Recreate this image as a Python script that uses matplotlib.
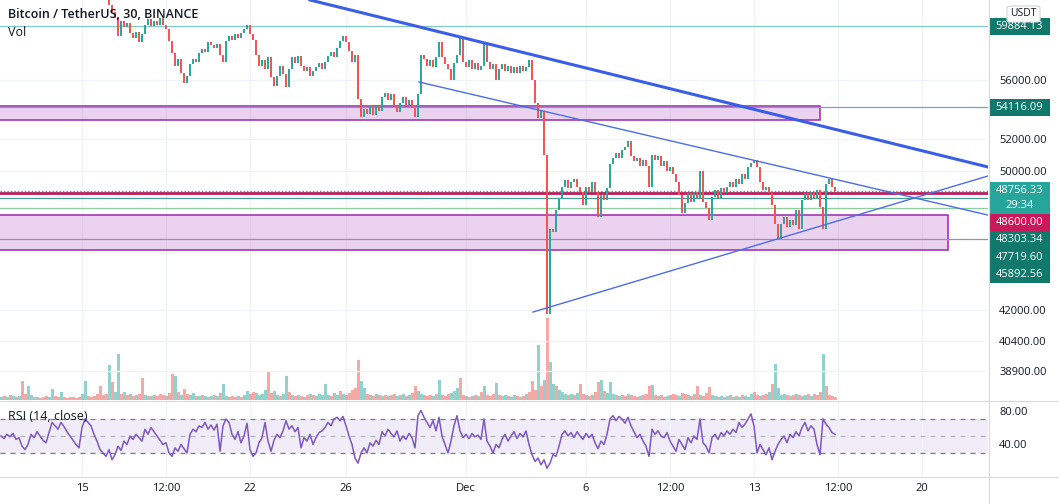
import numpy as np
import matplotlib.pyplot as plt
from matplotlib.lines import Line2D
from matplotlib.patches import Rectangle, FancyBboxPatch

W, H = 1059, 504

# x axis = day counted from Nov 1 (Dec 1 = 31); values sampled every 3h from the 30m chart
tick_days = [15, 18.5, 22, 26, 31, 36, 39.5, 43, 46.5, 50]
tick_labels = ["15", "12:00", "22", "26", "Dec", "6", "12:00", "13", "12:00", "20"]

price_span = (15.875, 46.375)
closes = [
    62400, 62000, 61500, 61000, 60500, 59200, 60300, 59800, 60100, 59400,
    59000, 59500, 58700, 59300, 60000, 60400, 59900, 60300, 60000, 60500,
    60000, 59700, 58800, 57900, 57000, 57500, 56500, 55800, 56300, 57100,
    57500, 57300, 57900, 58200, 58000, 58700, 58500, 58300, 58600, 57800,
    57300, 58800, 59200, 58900, 59300, 59000, 59400, 59700, 60000, 59300,
    58900, 57800, 57000, 57400, 56800, 57600, 56200, 55600, 56300, 57000,
    56400, 55500, 56800, 57600, 57200, 57700, 57000, 56600, 56900, 56300,
    56600, 56900, 57200, 56800, 57300, 57700, 58000, 57600, 58300, 58800,
    59200, 58700, 58100, 57300, 57800, 54700, 53500, 54000, 53700, 54200,
    53600, 54300, 53900, 54800, 55100, 54600, 55000, 54300, 53800, 54400,
    54800, 54200, 54600, 54100, 53500, 55000, 57800, 57500, 57000, 57400,
    56900, 57600, 58700, 57600, 57100, 56800, 56000, 57200, 57800, 59000,
    57300, 56900, 57400, 56800, 57200, 56700, 57000, 58600, 57300, 56800,
    57100, 56000, 56800, 57100, 56600, 57000, 56500, 56900, 56500, 57000,
    56600, 56900, 57400, 56000, 54400, 53400, 53900, 51000, 41800, 46500,
    46300, 47600, 48300, 49000, 49400, 48900, 49300, 49500, 49000, 48700,
    47900, 49000, 48700, 49300, 48700, 47200, 48500, 48200, 48900, 50400,
    50800, 51100, 50800, 51300, 51500, 51900, 50900, 50600, 50800, 50300,
    50700, 50300, 49000, 51000, 50700, 50900, 50300, 50600, 50000, 50200,
    49800, 49300, 48500, 47400, 48000, 48600, 48100, 48700, 48300, 50000,
    48100, 47700, 47000, 48400, 48800, 48300, 48900, 48600, 49000, 49300,
    49000, 49500, 49200, 49800, 49500, 50200, 50500, 50700, 50200, 49300,
    48800, 49000, 48600, 47900, 46800, 45900, 46800, 47200, 46600, 47000,
    46700, 47600, 46500, 48200, 48600, 48200, 48700, 48300, 48800, 47800,
    46500, 49200, 49500, 49000, 48756.33,
]

ind_span = (11.625, 46.375)
rsi = [
    50, 47, 52, 49, 53, 46, 48, 38, 34, 40, 52, 48, 55, 50, 45, 42, 54, 66, 62,
    58, 66, 61, 55, 50, 45, 40, 36, 60, 70, 66, 62, 52, 44, 34, 30, 26, 34, 22, 28,
    38, 33, 44, 40, 50, 46, 52, 48, 44, 58, 52, 60, 55, 50, 45, 40, 42, 30, 26,
    36, 32, 40, 35, 30, 52, 58, 55, 62, 60, 66, 58, 63, 57, 64, 32, 62, 70, 66,
    52, 46, 55, 42, 50, 65, 34, 26, 30, 42, 48, 66, 44, 32, 45, 52, 48, 56, 68,
    58, 62, 55, 60, 36, 48, 44, 52, 40, 48, 54, 56, 60, 66, 62, 70, 72, 68, 73, 62,
    50, 40, 24, 18, 30, 36, 30, 42, 38, 45, 40, 55, 50, 58, 53, 49, 56,
    44, 50, 46, 53, 48, 36, 74, 80, 72, 66, 60, 68, 56, 72, 50, 40, 30, 44,
    62, 74, 56, 48, 52, 47, 53, 49, 51, 46, 70, 44, 38, 30, 40, 36,
    46, 52, 44, 50, 55, 47, 53, 49, 56, 40, 28, 20, 24, 16, 22, 12, 18, 28, 26,
    38, 52, 56, 50, 54, 48, 55, 50, 46, 53, 48, 52, 42, 35, 44, 40, 52, 70,
    74, 68, 73, 70, 65, 72, 62, 55, 48, 52, 44, 38, 26, 58, 52, 56, 50, 48, 54,
    44, 38, 32, 46, 40, 34, 48, 42, 50, 46, 70, 42, 38, 30, 48, 52, 46, 54, 50, 56, 52,
    58, 54, 66, 60, 64, 70, 76, 62, 30, 40, 34, 28, 36, 22, 32, 40,
    46, 50, 42, 52, 48, 55, 50, 60, 66, 56, 62, 58, 40, 28, 70, 64, 60, 54, 52,
]

# volume in hundreds of BTC
volume = [
    3, 4, 3, 5, 4, 3, 4,
    19, 6, 14, 5, 3, 3, 2, 3, 4, 3, 11, 4, 3, 8, 3, 2, 3, 3, 2, 3,
    6, 19, 4, 3, 4, 6, 14, 5, 6, 35, 18, 8, 46, 6, 8, 5, 6, 4, 5, 6,
    22, 5, 4, 4, 5, 4, 6, 5, 4, 7, 26, 24, 8, 5, 11, 6, 5, 7, 4, 4,
    5, 4, 3, 4, 5, 4, 7, 16, 4, 3, 4, 3, 4, 3, 5, 9, 6, 8, 7, 5,
    6, 10, 28, 7, 9, 5, 4, 6, 24, 8, 5, 4, 5, 4, 3, 5, 6, 5, 4, 6,
    5, 16, 5, 4, 7, 5, 9, 6, 5, 7, 10, 12, 40, 19, 12, 6, 5, 4, 6, 5,
    4, 5, 4, 5, 6, 4, 5, 6, 4, 5, 7, 14, 9, 6, 5, 4, 5, 4, 6, 20,
    5, 4, 6, 7, 9, 12, 22, 5, 4, 3, 4, 5, 4, 8, 14, 5, 4, 6, 17, 5,
    4, 5, 4, 3, 5, 4, 3, 4, 6, 8, 19, 10, 55, 14, 20, 82, 38, 16, 14, 10,
    8, 6, 5, 6, 5, 7, 16, 6, 5, 4, 5, 8, 18, 20, 9, 7, 18, 6, 5, 4,
    5, 4, 6, 5, 4, 3, 4, 5, 6, 14, 15, 5, 4, 5, 3, 4, 5, 6, 5, 4,
    7, 6, 5, 4, 6, 14, 5, 4, 7, 13, 5, 4, 3, 4, 3, 4, 5, 3, 4, 3,
    5, 4, 3, 6, 8, 5, 4, 5, 6, 8, 16, 36, 12, 5, 6, 5, 4, 5, 6, 5,
    4, 5, 6, 4, 6, 5, 8, 46, 14, 5, 4, 3,
]

price_ticks = [38900, 40400, 42000, 50000, 52000, 56000]
rsi_ticks = [40, 80]

# drawn levels and zones
line_59884 = 59884.13
line_54116 = 54116.09
last_price = 48756.33
line_48600 = 48600.00
line_48303 = 48303.34
line_47719 = 47719.60
line_45892 = 45892.56
zone_upper = (53300, 54200, 45.75)   # low, high, right end day
zone_lower = (45280, 47300, 51.08)

trend_thick = ([24.5, 52.75], [61890, 50230])
trend_upper = ([29.04, 52.75], [55860, 47300])
trend_lower = ([33.79, 52.75], [41900, 49670])

UP, DOWN = "#26a69a", "#ef5350"
TEXT = "#131722"
GRID = "#f0f3fa"

plt.rcParams['font.family'] = ['Open Sans', 'DejaVu Sans']

fig = plt.figure(figsize=(W / 100, H / 100), dpi=100)


def rect(x0, y0, w, h):
    return [x0 / W, 1 - (y0 + h) / H, w / W, h / H]


xlim = (11.583, 52.75)
ax_vol = fig.add_axes(rect(0, 0, 988, 400))
ax = fig.add_axes(rect(0, 0, 988, 400))
ax_rsi = fig.add_axes(rect(0, 401, 988, 75))
ax.patch.set_visible(False)

for a in (ax_vol, ax, ax_rsi):
    a.set_xlim(*xlim)
    for s in a.spines.values():
        s.set_visible(False)

# volume
t_ind = np.linspace(ind_span[0], ind_span[1], len(rsi))
vol_cols = [UP if i == 0 or rsi[i] >= rsi[i - 1] else DOWN for i in range(len(volume))]
ax_vol.bar(t_ind[:len(volume)], volume, width=0.125, color=vol_cols, alpha=0.5, linewidth=0)
ax_vol.set_ylim(0, 400)
ax_vol.set_xticks(tick_days)
ax_vol.set_yticks([])
ax_vol.tick_params(axis='x', length=0, labelbottom=False)
ax_vol.grid(axis='x', color=GRID, lw=0.9)
ax_vol.set_axisbelow(True)

# main price pane
ax.set_yscale('log')
ax.set_ylim(37538, 61890)
ax.set_yticks(price_ticks)
ax.minorticks_off()
ax.set_yticklabels([f"{p:.2f}" for p in price_ticks])
ax.yaxis.tick_right()
ax.tick_params(axis='y', length=0, pad=8, labelsize=8, labelcolor=TEXT)
ax.set_xticks(tick_days)
ax.tick_params(axis='x', length=0, labelbottom=False)
ax.grid(axis='y', color=GRID, lw=0.9)

t_price = np.linspace(price_span[0], price_span[1], len(closes))
closes_arr = np.array(closes)
opens = np.concatenate([[62600], closes_arr[:-1]])
cols = [UP if c >= o else DOWN for o, c in zip(opens, closes_arr)]
ax.vlines(t_price, np.minimum(opens, closes_arr), np.maximum(opens, closes_arr),
          colors=cols, lw=1.4, zorder=3)

for lo, hi, end in (zone_upper, zone_lower):
    ax.add_patch(Rectangle((0, lo), end, hi - lo, facecolor=(0.61, 0.15, 0.69, 0.2),
                           edgecolor='#9c27b0', lw=1.1, zorder=1))

ax.axhline(line_59884, color='#80cbc4', lw=0.9, zorder=2)
ax.axhline(line_54116, color='#7aa3c0', lw=0.9, zorder=2)
ax.axhline(line_48303, color='#4c9a92', lw=0.9, zorder=2)
ax.axhline(line_47719, color='#8fcf9c', lw=0.9, zorder=2)
ax.axhline(line_45892, color='#9b8fb8', lw=0.9, zorder=2)
ax.axhline(line_48600, color='#c2185b', lw=2, zorder=2)
ax.axhline(last_price, color=UP, lw=1, ls=(0, (1, 1.5)), zorder=2)

ax.plot(*trend_thick, color='#3a5ee6', lw=2.2, zorder=4)
ax.plot(*trend_upper, color='#4a6ee6', lw=1, zorder=4)
ax.plot(*trend_lower, color='#4a6ee6', lw=1, zorder=4)

# RSI pane
ax_rsi.set_ylim(2.9, 91.2)
ax_rsi.axhspan(30, 70, color='#7e57c2', alpha=0.1, lw=0)
for lvl, al in ((70, 1), (50, 0.5), (30, 1)):
    ax_rsi.axhline(lvl, color='#787b86', lw=0.9, ls=(0, (4, 4)), alpha=al)
ax_rsi.plot(t_ind, rsi, color='#7e57c2', lw=1.1)
ax_rsi.set_yticks(rsi_ticks)
ax_rsi.set_yticklabels([f"{v:.2f}" for v in rsi_ticks])
ax_rsi.yaxis.tick_right()
ax_rsi.tick_params(axis='y', length=0, pad=8, labelsize=8, labelcolor=TEXT)
ax_rsi.set_xticks(tick_days)
ax_rsi.set_xticklabels(tick_labels)
ax_rsi.tick_params(axis='x', length=0, pad=5, labelsize=8, labelcolor=TEXT)
ax_rsi.grid(axis='x', color=GRID, lw=0.9)

# frame lines
fig.add_artist(Line2D([988.5 / W] * 2, [0, 1], color='#d6d8de', lw=0.8))
for yy in (400.5, 476.5):
    fig.add_artist(Line2D([0, 1], [1 - yy / H] * 2, color='#d6d8de', lw=0.8))

# price tags on the right scale, stacked like TradingView
tags = [
    (line_59884, ["59884.13"], '#11796b'),
    (line_54116, ["54116.09"], '#11796b'),
    (last_price, ["48756.33", "29:34"], UP),
    (line_48600, ["48600.00"], '#c8195a'),
    (line_48303, ["48303.34"], '#11796b'),
    (line_47719, ["47719.60"], '#11796b'),
    (line_45892, ["45892.56"], '#11796b'),
]
row = 17.3
prev_bottom = -100
for price, lines, fc in tags:
    y_center = H - ax.transData.transform((20, price))[1]
    top = max(y_center - row / 2, prev_bottom)
    h = row * len(lines) + (-3 if len(lines) > 1 else 0)
    fig.add_artist(Rectangle((989 / W, 1 - (top + h) / H), 61 / W, h / H,
                             transform=fig.transFigure, fc=fc, ec='none'))
    for k, txt in enumerate(lines):
        fig.text(1019.5 / W, 1 - (top + row / 2 + k * (row - 3)) / H, txt, ha='center',
                 va='center', fontsize=8, color='white')
    prev_bottom = top + h

fig.add_artist(FancyBboxPatch((1007 / W, 1 - 22 / H), 33 / W, 16 / H,
                              boxstyle='round,pad=0,rounding_size=0.004',
                              transform=fig.transFigure, fc='white', ec='#d1d4dc', lw=0.8))
fig.text(1023.5 / W, 1 - 14 / H, "USDT", ha='center', va='center', fontsize=7.5, color=TEXT)

# pane titles
fig.text(8 / W, 1 - 14 / H, "Bitcoin / TetherUS, 30, BINANCE", va='center',
         fontsize=9, fontweight='semibold', color=TEXT)
fig.text(8 / W, 1 - 33 / H, "Vol", va='center', fontsize=9, color=TEXT)
fig.text(8 / W, 1 - 417 / H, "RSI (14, close)", va='center', fontsize=9, color=TEXT)

fig.savefig("out.png", dpi=100)
